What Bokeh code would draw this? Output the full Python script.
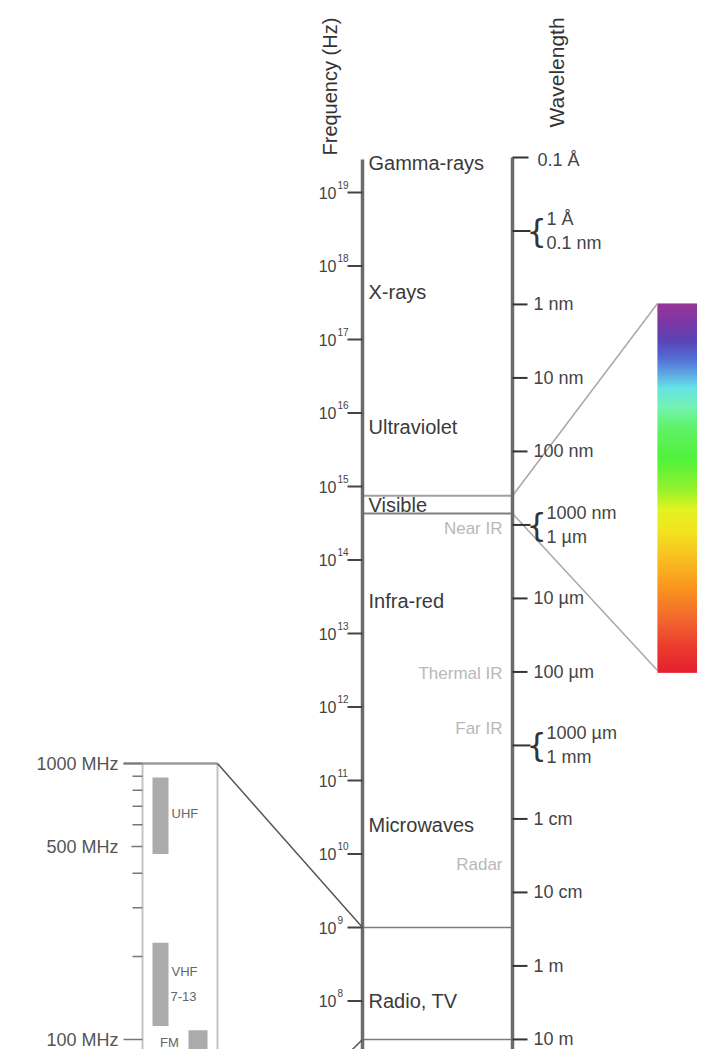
import numpy as np
from bokeh.plotting import figure
from bokeh.models import Range1d, LogScale
from bokeh.core.properties import value
from bokeh.embed import file_html
from bokeh.resources import INLINE

# ---------------- data ----------------
C_LIGHT = 3e8  # m/s, converts wavelength to frequency

freq_exponents = [19, 18, 17, 16, 15, 14, 13, 12, 11, 10, 9, 8]

wl_top_m = 1e-11
wl_top_label = "0.1 Å"
wl_single_m = [1e-9, 1e-8, 1e-7, 1e-5, 1e-4, 1e-2, 1e-1, 1.0, 10.0]
wl_single_labels = ["1 nm", "10 nm", "100 nm", "10 µm", "100 µm", "1 cm", "10 cm", "1 m", "10 m"]
wl_pair_m = [1e-10, 1e-6, 1e-3]
wl_pair_upper = ["1 Å", "1000 nm", "1000 µm"]
wl_pair_lower = ["0.1 nm", "1 µm", "1 mm"]

region_names = ["Gamma-rays", "X-rays", "Ultraviolet", "Visible", "Infra-red", "Microwaves", "Radio, TV"]
region_hz = [2.5e19, 4.4e17, 6.4e15, 5.6e14, 2.8e13, 2.5e10, 1.0e8]
sub_names = ["Near IR", "Thermal IR", "Far IR", "Radar"]
sub_hz = [2.7e14, 2.9e12, 5.1e11, 7.2e9]

visible_nm = [400, 700]
band_edges_hz = [1e9, 3e7]

inset_ticks_mhz = [1000, 900, 800, 700, 600, 500, 400, 300, 200, 100, 90]
inset_major_mhz = [1000, 500, 100]
inset_major_labels = ["1000 MHz", "500 MHz", "100 MHz"]
inset_band_lo_mhz = [470, 112, 54, 88]
inset_band_hi_mhz = [890, 224, 88, 108]
inset_span_mhz = [1000, 30]

spectrum_stops = [0.00, 0.05, 0.10, 0.15, 0.19, 0.23, 0.28, 0.34, 0.42, 0.50,
                  0.56, 0.62, 0.70, 0.78, 0.86, 0.93, 1.00]
spectrum_colors = ["#8a1a88", "#6a1a98", "#4428a8", "#3a5ad0", "#4898e0", "#50e0e0",
                   "#60f0a8", "#48f050", "#38f020", "#80f010", "#e0f000", "#f0e000",
                   "#f8b000", "#f88000", "#f05010", "#e82010", "#e00010"]

# ---------------- layout ----------------
PX19 = 192.0      # picture pixel of 10^19 Hz
PXDEC = 73.5      # picture pixels per decade (main scale)
IN_PX1000 = 763.0 # picture pixel of 1000 MHz on the inset
IN_PXDEC = 276.0  # picture pixels per decade (inset)
FONT = value("Liberation Sans")

def px_to_hz(px):
    return 10 ** (19 - (px - PX19) / PXDEC)

def px_to_mhz(px):
    return 10 ** (3 - (px - IN_PX1000) / IN_PXDEC)

def mhz_to_px(m):
    return IN_PX1000 + (3 - np.log10(m)) * IN_PXDEC

W, H = 697, 1049
p = figure(width=W, height=H, output_backend="svg", toolbar_location=None,
           x_range=Range1d(0, W), y_range=Range1d(px_to_hz(H), px_to_hz(0)),
           y_axis_type="log", x_axis_location=None, y_axis_location=None,
           min_border=0, outline_line_color=None)
p.grid.visible = False
p.extra_y_ranges = {"inset": Range1d(px_to_mhz(H), px_to_mhz(0))}
p.extra_y_scales = {"inset": LogScale()}

AX = "#6c6c6c"
X_F, X_W = 362, 512
bottom_hz = px_to_hz(1100)

# titles (vertical)
p.text(x=[329], y=[px_to_hz(155)], text=["Frequency (Hz)"], angle=np.pi / 2,
       text_align="left", text_baseline="middle", text_font_size="20px",
       text_color="#333333", text_font=FONT)
p.text(x=[556], y=[px_to_hz(127)], text=["Wavelength"], angle=np.pi / 2,
       text_align="left", text_baseline="middle", text_font_size="21px",
       text_color="#333333", text_font=FONT)

# colour bar (visible spectrum)
cb_top, cb_bot = 303, 672
n = cb_bot - cb_top
fr = np.linspace(0, 1, n + 1)
def hex2rgb(h):
    return [int(h[i:i + 2], 16) for i in (1, 3, 5)]
rgb = np.array([hex2rgb(c) for c in spectrum_colors], dtype=float)
cols = []
for f in (fr[:-1] + fr[1:]) / 2:
    r = [np.interp(f, spectrum_stops, rgb[:, k]) for k in range(3)]
    cols.append("#%02x%02x%02x" % tuple(int(round(v)) for v in r))
tops = [px_to_hz(cb_top + i) for i in range(n)]
bots = [px_to_hz(cb_top + i + 1.2) for i in range(n)]
p.quad(left=657, right=710, top=tops, bottom=bots, fill_color=cols, line_color=None)

# visible band lines and zoom lines to colour bar
vis_hz = [C_LIGHT / (nm * 1e-9) for nm in visible_nm]
p.segment(x0=X_F, x1=X_W, y0=vis_hz, y1=vis_hz, line_color=["#a0a0a0", "#808080"], line_width=2)
p.segment(x0=[X_W, X_W], x1=[657, 657], y0=vis_hz, y1=[px_to_hz(cb_top), px_to_hz(cb_bot - 2)],
          line_color="#a8a8a8", line_width=1.5)

# band edge lines
p.segment(x0=X_F, x1=X_W, y0=band_edges_hz, y1=band_edges_hz, line_color="#7a7a7a", line_width=1.5)

# axes
p.segment(x0=[X_F], x1=[X_F], y0=[px_to_hz(159)], y1=[bottom_hz], line_color=AX, line_width=3.5)
p.segment(x0=[X_W], x1=[X_W], y0=[C_LIGHT / wl_top_m], y1=[bottom_hz], line_color=AX, line_width=3.5)

# frequency ticks and labels
f_hz = [10.0 ** e for e in freq_exponents]
p.segment(x0=347, x1=X_F, y0=f_hz, y1=f_hz, line_color="#444444", line_width=2)
p.text(x=336, y=f_hz, text=["10"] * len(f_hz), text_align="right", text_baseline="alphabetic",
       text_font_size="16px", text_color="#444444", text_font=FONT)
p.text(x=337, y=f_hz, text=[str(e) for e in freq_exponents], y_offset=-8, text_align="left",
       text_baseline="alphabetic", text_font_size="10px", text_color="#444444", text_font=FONT)

# wavelength ticks
top_hz = C_LIGHT / wl_top_m
p.segment(x0=[X_W], x1=[528], y0=[top_hz], y1=[top_hz], line_color="#333333", line_width=2)
p.text(x=[537], y=[top_hz], text=[wl_top_label], y_offset=3, text_align="left", text_baseline="middle",
       text_font_size="18px", text_color="#444444", text_font=FONT)
s_hz = [C_LIGHT / w for w in wl_single_m]
p.segment(x0=X_W, x1=527, y0=s_hz, y1=s_hz, line_color="#333333", line_width=2)
p.text(x=533, y=s_hz, text=wl_single_labels, text_align="left", text_baseline="middle",
       text_font_size="18px", text_color="#444444", text_font=FONT)
d_hz = [C_LIGHT / w for w in wl_pair_m]
p.segment(x0=X_W, x1=530, y0=d_hz, y1=d_hz, line_color="#333333", line_width=2)
p.text(x=526, y=d_hz, text=["{"] * 3, text_align="left", text_baseline="middle",
       text_font_size="32px", text_color="#333333", text_font=value("DejaVu Sans"))
p.text(x=546, y=d_hz, text=wl_pair_upper, y_offset=-12, text_align="left", text_baseline="middle",
       text_font_size="18px", text_color="#444444", text_font=FONT)
p.text(x=546, y=d_hz, text=wl_pair_lower, y_offset=12, text_align="left", text_baseline="middle",
       text_font_size="18px", text_color="#444444", text_font=FONT)

# region labels
p.text(x=368, y=region_hz, text=region_names, text_align="left", text_baseline="middle",
       text_font_size="20px", text_color="#3a3a3a", text_font=FONT)
p.text(x=502, y=sub_hz, text=sub_names, text_align="right", text_baseline="middle",
       text_font_size="17px", text_color="#b8b8b8", text_font=FONT)

# ---------------- inset (radio) ----------------
IN = "inset"
in_bottom = px_to_mhz(1100)
p.segment(x0=[142, 217], x1=[142, 217], y0=[inset_span_mhz[0]] * 2, y1=[in_bottom] * 2,
          line_color="#c4c4c4", line_width=2, y_range_name=IN)
p.segment(x0=[123], x1=[217], y0=[inset_span_mhz[0]], y1=[inset_span_mhz[0]],
          line_color="#9a9a9a", line_width=2.5, y_range_name=IN)
minor = [m for m in inset_ticks_mhz if m not in inset_major_mhz]
p.segment(x0=132, x1=142, y0=minor, y1=minor, line_color="#777777", line_width=1.5, y_range_name=IN)
p.segment(x0=[123, 131, 123], x1=[142] * 3, y0=inset_major_mhz, y1=inset_major_mhz,
          line_color="#777777", line_width=1.5, y_range_name=IN)
p.text(x=118, y=inset_major_mhz, text=inset_major_labels, text_align="right", text_baseline="middle",
       text_font_size="18px", text_color="#555555", text_font=FONT, y_range_name=IN)

bar_left = [152, 152, 152, 188]
bar_right = [168, 168, 168, 207]
p.quad(left=bar_left, right=bar_right, top=inset_band_hi_mhz, bottom=inset_band_lo_mhz,
       fill_color="#ababab", line_color=None, y_range_name=IN)
uhf_c = np.sqrt(inset_band_lo_mhz[0] * inset_band_hi_mhz[0])
vhf_c = np.sqrt(inset_band_lo_mhz[1] * inset_band_hi_mhz[1])
fm_c = np.sqrt(inset_band_lo_mhz[3] * inset_band_hi_mhz[3])
p.text(x=[171, 171, 170], y=[uhf_c, vhf_c, vhf_c], text=["UHF", "VHF", "7-13"],
       y_offset=[-2, -13, 12], text_align="left", text_baseline="middle",
       text_font_size="13px", text_color="#666666", text_font=FONT, y_range_name=IN)
p.text(x=[169], y=[fm_c], text=["FM"], text_align="center", text_baseline="middle",
       text_font_size="13px", text_color="#666666", text_font=FONT, y_range_name=IN)

# connecting lines from inset to main axis (1000 MHz = 1e9 Hz, 30 MHz = 3e7 Hz)
p.segment(x0=[217, 217], x1=[X_F, X_F],
          y0=[px_to_hz(mhz_to_px(m)) for m in inset_span_mhz],
          y1=[m * 1e6 for m in inset_span_mhz],
          line_color="#555555", line_width=1.5)

open("out.html", "w").write(file_html(p, INLINE))
